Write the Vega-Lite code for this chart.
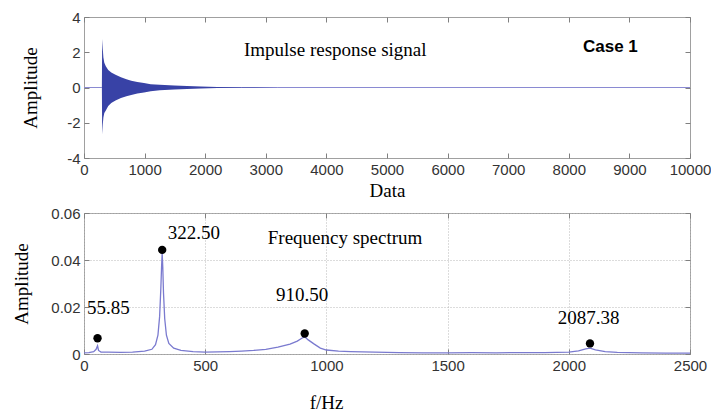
{
  "$schema": "https://vega.github.io/schema/vega-lite/v6.json",
  "padding": {"left": 12, "top": 9, "right": 0, "bottom": 0},
  "bounds": "flush",
  "spacing": 55,
  "background": "white",
  "config": {
    "view": {"stroke": "#a0a0a0", "strokeWidth": 1},
    "axis": {
      "labelFont": "Liberation Sans",
      "labelFontSize": 15,
      "labelColor": "#333333",
      "labelFlush": false,
      "labelOverlap": false,
      "labelPadding": 9,
      "tickSize": -5,
      "tickColor": "#808080",
      "domain": false,
      "grid": false,
      "titleFont": "Liberation Serif",
      "titleFontSize": 19,
      "titleFontWeight": "normal",
      "titleColor": "#000000"
    }
  },
  "datasets": {
    "signal": [
      {"x": 0, "hi": 0, "lo": 0},
      {"x": 295, "hi": 0, "lo": 0},
      {"x": 300, "hi": 2.75, "lo": -2.65},
      {"x": 310, "hi": 2.2, "lo": -2.1},
      {"x": 320, "hi": 1.7, "lo": -1.7},
      {"x": 335, "hi": 1.4, "lo": -1.45},
      {"x": 360, "hi": 1.2, "lo": -1.3},
      {"x": 400, "hi": 1.0, "lo": -1.05},
      {"x": 450, "hi": 0.85, "lo": -0.88},
      {"x": 520, "hi": 0.72, "lo": -0.74},
      {"x": 610, "hi": 0.58, "lo": -0.6},
      {"x": 700, "hi": 0.47, "lo": -0.5},
      {"x": 780, "hi": 0.39, "lo": -0.42},
      {"x": 880, "hi": 0.31, "lo": -0.34},
      {"x": 990, "hi": 0.25, "lo": -0.28},
      {"x": 1100, "hi": 0.19, "lo": -0.21},
      {"x": 1250, "hi": 0.15, "lo": -0.16},
      {"x": 1490, "hi": 0.12, "lo": -0.12},
      {"x": 1700, "hi": 0.085, "lo": -0.085},
      {"x": 1930, "hi": 0.06, "lo": -0.06},
      {"x": 2200, "hi": 0.035, "lo": -0.035},
      {"x": 2600, "hi": 0.012, "lo": -0.012},
      {"x": 3200, "hi": 0, "lo": 0},
      {"x": 10000, "hi": 0, "lo": 0}
    ],
    "spectrum": [
      {"f": 0, "amp": 0.0005},
      {"f": 20, "amp": 0.0006},
      {"f": 40, "amp": 0.001},
      {"f": 50, "amp": 0.002},
      {"f": 55.85, "amp": 0.0035},
      {"f": 60, "amp": 0.0015},
      {"f": 70, "amp": 0.0008},
      {"f": 100, "amp": 0.0008},
      {"f": 150, "amp": 0.0007},
      {"f": 200, "amp": 0.0008},
      {"f": 250, "amp": 0.0012},
      {"f": 280, "amp": 0.002},
      {"f": 295, "amp": 0.004},
      {"f": 305, "amp": 0.008},
      {"f": 312, "amp": 0.016},
      {"f": 317, "amp": 0.028},
      {"f": 320, "amp": 0.037},
      {"f": 322.5, "amp": 0.043},
      {"f": 325, "amp": 0.037},
      {"f": 328, "amp": 0.026},
      {"f": 333, "amp": 0.015},
      {"f": 340, "amp": 0.008},
      {"f": 350, "amp": 0.0045},
      {"f": 370, "amp": 0.0025},
      {"f": 400, "amp": 0.0015},
      {"f": 450, "amp": 0.001},
      {"f": 500, "amp": 0.0008},
      {"f": 600, "amp": 0.001},
      {"f": 650, "amp": 0.0012},
      {"f": 700, "amp": 0.0015},
      {"f": 750, "amp": 0.002},
      {"f": 800, "amp": 0.0029},
      {"f": 850, "amp": 0.0042},
      {"f": 880, "amp": 0.0055},
      {"f": 900, "amp": 0.0068},
      {"f": 910.5, "amp": 0.0073},
      {"f": 925, "amp": 0.006},
      {"f": 950, "amp": 0.0042},
      {"f": 975, "amp": 0.0025},
      {"f": 1000, "amp": 0.0017},
      {"f": 1050, "amp": 0.0012},
      {"f": 1100, "amp": 0.001},
      {"f": 1200, "amp": 0.0008},
      {"f": 1300, "amp": 0.0006},
      {"f": 1400, "amp": 0.0005},
      {"f": 1500, "amp": 0.0005},
      {"f": 1600, "amp": 0.0006},
      {"f": 1700, "amp": 0.0005},
      {"f": 1800, "amp": 0.0006},
      {"f": 1900, "amp": 0.0006},
      {"f": 2000, "amp": 0.0008},
      {"f": 2040, "amp": 0.0013},
      {"f": 2070, "amp": 0.0022},
      {"f": 2087.38, "amp": 0.0025},
      {"f": 2110, "amp": 0.0018},
      {"f": 2150, "amp": 0.001},
      {"f": 2200, "amp": 0.0007},
      {"f": 2300, "amp": 0.0005},
      {"f": 2400, "amp": 0.0004},
      {"f": 2500, "amp": 0.0004}
    ],
    "peaks": [
      {"f": 55.85, "amp": 0.0067},
      {"f": 322.5, "amp": 0.0443},
      {"f": 910.5, "amp": 0.0087},
      {"f": 2087.38, "amp": 0.0045}
    ],
    "peakLabels": [
      {"f": 12, "amp": 0.0195, "label": "55.85"},
      {"f": 345, "amp": 0.0514, "label": "322.50"},
      {"f": 792, "amp": 0.0251, "label": "910.50"},
      {"f": 1954, "amp": 0.0152, "label": "2087.38"},
      {"f": 758, "amp": 0.0492, "label": "Frequency spectrum"}
    ],
    "topTitle": [{"x": 2640, "y": 2.1, "label": "Impulse response signal"}],
    "caseLabel": [{"x": 8234, "y": 2.3, "label": "Case 1"}]
  },
  "vconcat": [
    {
      "width": 606,
      "height": 141,
      "layer": [
        {
          "data": {"name": "signal"},
          "mark": {"type": "line", "color": "#8a8ad2", "strokeWidth": 1},
          "encoding": {
            "x": {"field": "x", "type": "quantitative", "scale": {"domain": [0, 10000], "nice": false, "zero": false}, "axis": null},
            "y": {"datum": 0, "type": "quantitative", "scale": {"domain": [-4, 4], "nice": false, "zero": false}, "axis": null}
          }
        },
        {
          "data": {"name": "signal"},
          "mark": {"type": "area", "color": "#3842a6", "opacity": 1},
          "encoding": {
            "x": {"field": "x", "type": "quantitative", "scale": {"domain": [0, 10000], "nice": false, "zero": false},
                  "axis": {"orient": "bottom", "title": "Data", "values": [0, 1000, 2000, 3000, 4000, 5000, 6000, 7000, 8000, 9000, 10000], "format": "d", "titlePadding": 4}},
            "y": {"field": "hi", "type": "quantitative", "scale": {"domain": [-4, 4], "nice": false, "zero": false},
                  "axis": {"orient": "left", "title": "Amplitude", "values": [-4, -2, 0, 2, 4], "labelExpr": "datum.value < 0 ? '-' + abs(datum.value) : '' + datum.value", "titlePadding": 26}},
            "y2": {"field": "lo"}
          }
        },
        {
          "data": {"name": "topTitle"},
          "mark": {"type": "text", "align": "left", "baseline": "middle", "font": "Liberation Serif", "fontSize": 19, "color": "#000000"},
          "encoding": {
            "x": {"field": "x", "type": "quantitative", "scale": {"domain": [0, 10000], "nice": false, "zero": false},
                  "axis": {"orient": "top", "labels": false, "title": null, "values": [0, 1000, 2000, 3000, 4000, 5000, 6000, 7000, 8000, 9000, 10000]}},
            "y": {"field": "y", "type": "quantitative", "scale": {"domain": [-4, 4], "nice": false, "zero": false},
                  "axis": {"orient": "right", "labels": false, "title": null, "values": [-4, -2, 0, 2, 4]}},
            "text": {"field": "label"}
          }
        },
        {
          "data": {"name": "caseLabel"},
          "mark": {"type": "text", "align": "left", "baseline": "middle", "font": "Liberation Sans", "fontWeight": "bold", "fontSize": 17, "color": "#000000"},
          "encoding": {
            "x": {"field": "x", "type": "quantitative", "scale": {"domain": [0, 10000], "nice": false, "zero": false}, "axis": null},
            "y": {"field": "y", "type": "quantitative", "scale": {"domain": [-4, 4], "nice": false, "zero": false}, "axis": null},
            "text": {"field": "label"}
          }
        }
      ]
    },
    {
      "width": 606,
      "height": 141,
      "layer": [
        {
          "data": {"name": "spectrum"},
          "mark": {"type": "line", "color": "#7a7acf", "strokeWidth": 1.3},
          "encoding": {
            "x": {"field": "f", "type": "quantitative", "scale": {"domain": [0, 2500], "nice": false, "zero": false},
                  "axis": {"orient": "bottom", "title": "f/Hz", "values": [0, 500, 1000, 1500, 2000, 2500], "format": "d", "grid": true, "gridDash": [1, 2], "gridColor": "#b8b8b8", "titlePadding": 20, "titleX": 242}},
            "y": {"field": "amp", "type": "quantitative", "scale": {"domain": [0, 0.06], "nice": false, "zero": false},
                  "axis": {"orient": "left", "title": "Amplitude", "values": [0, 0.02, 0.04, 0.06], "labelExpr": "datum.value == 0 ? '0' : format(datum.value, '.2f')", "grid": true, "gridDash": [1, 2], "gridColor": "#b8b8b8", "titlePadding": 19}}
          }
        },
        {
          "data": {"name": "peaks"},
          "mark": {"type": "circle", "color": "#000000", "opacity": 1, "size": 70},
          "encoding": {
            "x": {"field": "f", "type": "quantitative", "scale": {"domain": [0, 2500], "nice": false, "zero": false},
                  "axis": {"orient": "top", "labels": false, "title": null, "values": [0, 500, 1000, 1500, 2000, 2500]}},
            "y": {"field": "amp", "type": "quantitative", "scale": {"domain": [0, 0.06], "nice": false, "zero": false},
                  "axis": {"orient": "right", "labels": false, "title": null, "values": [0, 0.02, 0.04, 0.06]}}
          }
        },
        {
          "data": {"name": "peakLabels"},
          "mark": {"type": "text", "align": "left", "baseline": "middle", "font": "Liberation Serif", "fontSize": 19, "color": "#000000"},
          "encoding": {
            "x": {"field": "f", "type": "quantitative", "scale": {"domain": [0, 2500], "nice": false, "zero": false}, "axis": null},
            "y": {"field": "amp", "type": "quantitative", "scale": {"domain": [0, 0.06], "nice": false, "zero": false}, "axis": null},
            "text": {"field": "label"}
          }
        }
      ]
    }
  ]
}
